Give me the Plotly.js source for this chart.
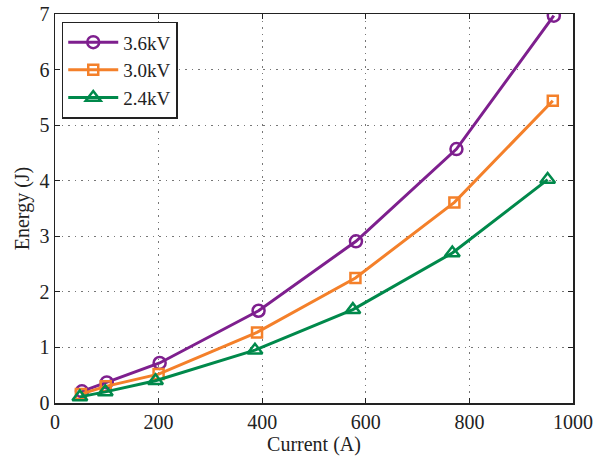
<!DOCTYPE html>
<html>
<head>
<meta charset="utf-8">
<script src="https://cdn.plot.ly/plotly-3.0.1.min.js"></script>
<style>html,body{margin:0;padding:0;background:#fff}#chart{width:607px;height:456px}</style>
</head>
<body>
<div id="chart"></div>
<script>
const seriesNames = ["3.6kV", "3.0kV", "2.4kV"];
const current36 = [52, 100, 202, 393, 581, 775, 963];
const energy36 = [0.21, 0.37, 0.72, 1.66, 2.91, 4.57, 6.97];
const current30 = [50, 98, 200, 390, 580, 771, 961];
const energy30 = [0.16, 0.30, 0.52, 1.27, 2.25, 3.61, 5.44];
const current24 = [48, 97, 194, 386, 575, 767, 951];
const energy24 = [0.11, 0.20, 0.40, 0.95, 1.68, 2.70, 4.02];
const xTicks = [0, 200, 400, 600, 800, 1000];
const yTicks = [0, 1, 2, 3, 4, 5, 6, 7];

const FONT = "'Liberation Serif', 'Times New Roman', Times, serif";
const colors = ["#7e1f8e", "#f4802a", "#00894b"];
const symbols = ["circle-open", "square-open", "triangle-up-open"];
const sizes = [12, 10, 13];
const xs = [current36, current30, current24];
const ys = [energy36, energy30, energy24];

const traces = seriesNames.map((n, i) => ({
  x: xs[i], y: ys[i], name: n, type: "scatter", mode: "lines+markers",
  line: {color: colors[i], width: 3},
  marker: {symbol: symbols[i], size: sizes[i], color: colors[i], line: {width: 2.5, color: colors[i]}}
}));

const axisCommon = {
  showline: true, linecolor: "#222", linewidth: 1.5, mirror: "ticks",
  ticks: "inside", ticklen: 5, tickcolor: "#222",
  showgrid: true, gridcolor: "#777", griddash: "1.5px,5px", gridwidth: 1.2,
  zeroline: false, tickfont: {family: FONT, size: 20, color: "#222"}
};

const layout = {
  width: 607, height: 456,
  margin: {l: 55, r: 34, t: 14, b: 53},
  paper_bgcolor: "#fff", plot_bgcolor: "#fff",
  font: {family: FONT, size: 20, color: "#222"},
  showlegend: true,
  legend: {x: 0.013, y: 0.98, xanchor: "left", yanchor: "top",
    bordercolor: "#222", borderwidth: 1.5, bgcolor: "#fff",
    font: {family: FONT, size: 19, color: "#222"},
    itemwidth: 50, tracegroupgap: 0},
  xaxis: Object.assign({}, axisCommon, {range: [0, 1000], tickvals: xTicks,
    title: {text: "Current (A)", font: {family: FONT, size: 20, color: "#222"}, standoff: 2}}),
  yaxis: Object.assign({}, axisCommon, {range: [0, 7], tickvals: yTicks,
    title: {text: "Energy (J)", font: {family: FONT, size: 20, color: "#222"}, standoff: 4}})
};

Plotly.newPlot("chart", traces, layout, {displayModeBar: false, staticPlot: true});
</script>
</body>
</html>
